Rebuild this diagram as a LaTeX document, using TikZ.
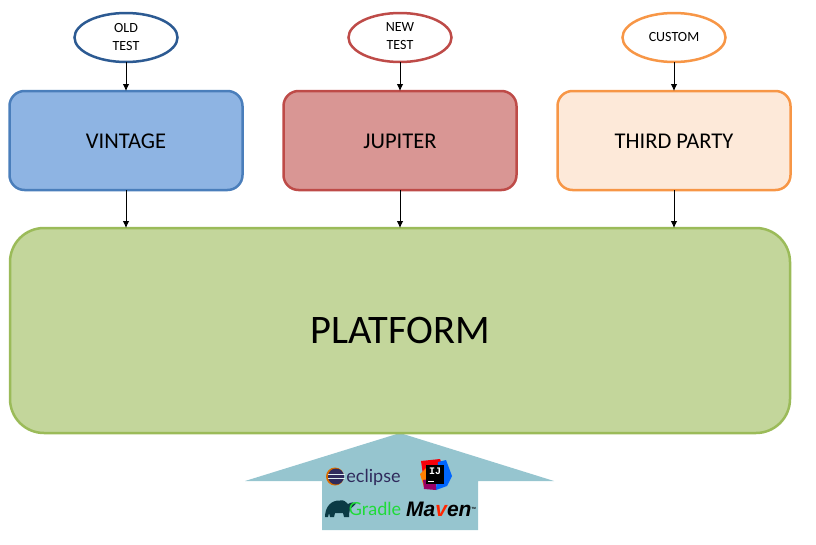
\documentclass[tikz,border=0pt]{standalone}
\usepackage{fontspec}
\setmainfont{Carlito}
\newfontfamily\logofont{Liberation Sans}
\newfontfamily\latofont{Lato}
\newfontfamily\monologo{Liberation Mono}
\usetikzlibrary{arrows.meta,shapes.geometric}
\definecolor{bluefill}{HTML}{8EB4E3}
\definecolor{blueline}{HTML}{4A7EBB}
\definecolor{oldline}{HTML}{2C5A92}
\definecolor{redfill}{HTML}{D99694}
\definecolor{redline}{HTML}{BE4B48}
\definecolor{orangefill}{HTML}{FDE9D9}
\definecolor{orangeline}{HTML}{F79646}
\definecolor{greenfill}{HTML}{C3D69B}
\definecolor{greenline}{HTML}{9BBB59}
\definecolor{arrowfill}{HTML}{96C5CF}
\definecolor{eclipseink}{HTML}{2F2A5C}
\definecolor{gradlegreen}{HTML}{1FDB38}
\definecolor{elephant}{HTML}{0B3A45}
\newcommand{\lift}{\rule[-2pt]{0pt}{1pt}}
\tikzset{
  box/.style={draw,line width=2.5pt,rounded corners=15pt,minimum width=233pt,minimum height=99pt,
    outer sep=0pt,inner sep=0pt,text=black,text height=16pt,text depth=0pt,font=\fontsize{22.5}{27}\selectfont},
  oval/.style={ellipse,draw,fill=white,line width=2.5pt,minimum width=103pt,minimum height=49pt,
    outer sep=0pt,inner sep=0pt,align=center,text=black,font=\fontsize{14}{18}\selectfont},
  flow/.style={draw=black,line width=0.8pt,-{Latex[length=7pt,width=6.5pt]}},
  logo/.style={inner sep=0pt,outer sep=0pt,anchor=center}
}
\begin{document}
\begin{tikzpicture}[x=1pt,y=-1pt]
\useasboundingbox (0,0) rectangle (816,544);
% large arrow
\fill[arrowfill] (400,433) -- (554,481) -- (478,481) -- (478,530) -- (322,530) -- (322,481) -- (245,481) -- cycle;
% boxes
\node[box,draw=greenline,fill=greenfill,rounded corners=34pt,minimum width=780pt,minimum height=205pt,text height=26pt,font=\fontsize{40.5}{48}\selectfont] (platform) at (400,330.5) {PLATFORM};
\node[box,draw=blueline,fill=bluefill] (vintage) at (126,140.5) {VINTAGE};
\node[box,draw=redline,fill=redfill] (jupiter) at (400,140.5) {JUPITER};
\node[box,draw=orangeline,fill=orangefill] (third) at (674,140.5) {THIRD PARTY};
\node[oval,draw=oldline] (old) at (126,37.5) {OLD\\TEST\lift};
\node[oval,draw=redline] (new) at (400,37.5) {NEW\\TEST\lift};
\node[oval,draw=orangeline] (custom) at (674,37.5) {CUSTOM\lift};
% connectors
\coordinate (p1) at (vintage.south |- platform.north);
\coordinate (p2) at (jupiter.south |- platform.north);
\coordinate (p3) at (third.south |- platform.north);
\draw[flow] (old) -- (vintage);
\draw[flow] (new) -- (jupiter);
\draw[flow] (custom) -- (third);
\draw[flow] (vintage) -- (p1);
\draw[flow] (jupiter) -- (p2);
\draw[flow] (third) -- (p3);
% eclipse logo
\fill[orange!85!black] (335,476.5) circle (9);
\fill[eclipseink] (336,476.5) circle (8);
\fill[arrowfill!30!white] (327.5,474.2) rectangle (344.5,475.1);
\fill[arrowfill!30!white] (327.5,477.7) rectangle (344.5,478.6);
\node[logo,text=eclipseink] (eclipse) at (373.5,477) {\latofont\fontsize{18}{22}\selectfont eclipse};
% IntelliJ logo
\fill[red!85!purple] (421,461) -- (440,459) -- (444,470) -- (424,482) -- cycle;
\fill[orange] (420,474) -- (428,466) -- (430,484) -- (424,487) -- cycle;
\fill[blue!60!cyan] (438,462) -- (446,460) -- (452,476) -- (447,486) -- (436,490) -- cycle;
\fill[purple!80!blue] (423,480) -- (436,478) -- (436,490) -- (424,489) -- cycle;
\node[logo,fill=black,minimum width=18pt,minimum height=19pt,text=white] (ij) at (435,474.5) {};
\node[logo,text=white] (ijtext) at (435,471.5) {\monologo\bfseries\fontsize{10}{12}\selectfont IJ};
\fill[white] (428,480.5) rectangle (434,481.5);
% Gradle logo
\fill[elephant] (325,517) .. controls (325,507) and (331,500) .. (340,500.5)
  .. controls (344,499.5) and (346,502) .. (348,504)
  .. controls (351,502) and (354,502) .. (356,503.5)
  .. controls (354,506.5) and (352,507) .. (350,509)
  .. controls (349,512) and (349,515) .. (349,517)
  -- (344,517) -- (343,513) -- (335,513) -- (334,517) -- (330,517) -- (329,513) -- (328,517) -- cycle;
\node[logo,text=gradlegreen] (gradle) at (375,509) {\latofont\fontsize{18}{22}\selectfont Gradle};
% Maven logo
\node[logo,text=black] (maven) at (441,509.5) {\logofont\bfseries\itshape\fontsize{21}{24}\selectfont Ma\textcolor{red!70!orange}{v}en\raisebox{7pt}{\fontsize{3}{3}\selectfont\upshape TM}};
\end{tikzpicture}
\end{document}
